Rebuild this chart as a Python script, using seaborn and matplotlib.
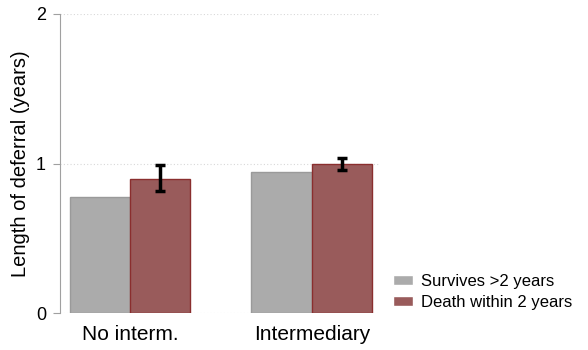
import pandas as pd
import numpy as np
import matplotlib
matplotlib.use('Agg')
import matplotlib.pyplot as plt
import seaborn as sns

groups = ['No interm.', 'Intermediary']
outcomes = ['Survives >2 years', 'Death within 2 years']
means = {
    'Survives >2 years': [0.776, 0.947],
    'Death within 2 years': [0.90, 0.997],
}
err_low = [0.82, 0.96]
err_high = [0.99, 1.04]

rows = []
for outcome in outcomes:
    for g, v in zip(groups, means[outcome]):
        rows.append({'group': g, 'outcome': outcome, 'value': v})
df = pd.DataFrame(rows)

sns.set_style('white')
plt.rcParams['font.family'] = ['Liberation Sans', 'DejaVu Sans']
plt.rcParams['text.color'] = 'black'
plt.rcParams['axes.labelcolor'] = 'black'
plt.rcParams['xtick.color'] = 'black'
plt.rcParams['ytick.color'] = 'black'

fig, ax = plt.subplots(figsize=(5.88, 3.5), dpi=100)
fig.subplots_adjust(left=0.102, right=0.646, top=0.96, bottom=0.105)

palette = {'Survives >2 years': '#ababab', 'Death within 2 years': '#995b5b'}
sns.barplot(data=df, x='group', y='value', hue='outcome', hue_order=outcomes,
            order=groups, palette=palette, width=0.665, saturation=1,
            errorbar=None, ax=ax, legend=True)

edges = {'Survives >2 years': '#9a9a9a', 'Death within 2 years': '#8a2e2e'}
for cont, outcome in zip(ax.containers, outcomes):
    for p in cont:
        p.set_edgecolor(edges[outcome])
        p.set_linewidth(1.0)

# error bars on the red bars
red = ax.containers[1]
xs = [p.get_x() + p.get_width() / 2 for p in red]
mid = np.array(means['Death within 2 years'])
lo = mid - np.array(err_low)
hi = np.array(err_high) - mid
ax.errorbar(xs, mid, yerr=[lo, hi], fmt='none', ecolor='black',
            elinewidth=2.5, capsize=3.5, capthick=2.5, zorder=5)

ax.set_xlim(-0.385, 1.374)
ax.set_ylim(0, 2)
ax.set_yticks([0, 1, 2])
ax.yaxis.grid(True, linestyle=(0, (1, 2)), color='#d8d8d8', linewidth=0.8)
ax.set_axisbelow(True)
for s in ['top', 'right', 'bottom']:
    ax.spines[s].set_visible(False)
ax.spines['left'].set_color('#a0a0a0')
ax.tick_params(axis='y', left=True, length=5, color='#a0a0a0', labelcolor='black',
               labelsize=13, pad=5)
ax.tick_params(axis='x', bottom=False, labelsize=15, pad=5, labelcolor='black')
ax.set_xlabel('')
ax.set_ylabel('Length of deferral (years)', fontsize=14.5, labelpad=4)

handles, labels = ax.get_legend_handles_labels()
ax.legend(handles, labels, loc='lower left', bbox_to_anchor=(1.02, -0.01),
          frameon=False, fontsize=12, handlelength=1.2, handleheight=0.55,
          handletextpad=0.5, labelspacing=0.36, borderaxespad=0)

fig.savefig('out.png', dpi=100)
